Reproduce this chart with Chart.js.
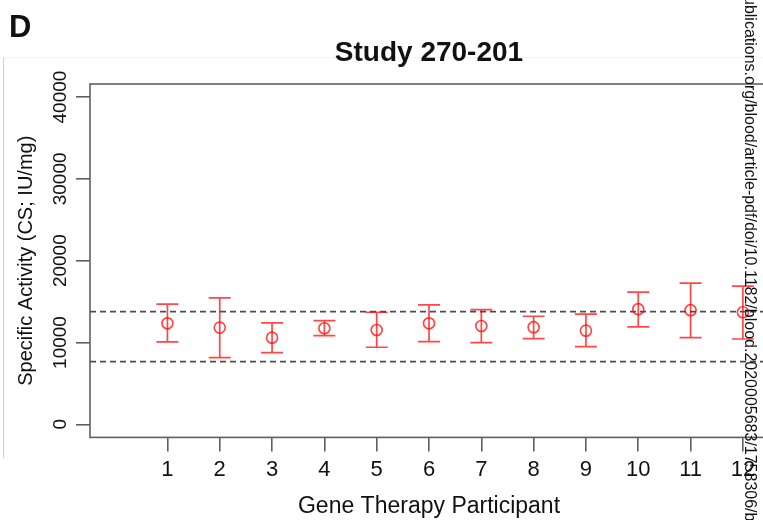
<!DOCTYPE html>
<html>
<head>
<meta charset="utf-8">
<script src="https://cdn.jsdelivr.net/npm/chart.js@4/dist/chart.umd.min.js"></script>
<style>
  html, body { margin: 0; padding: 0; background: #fff; overflow: hidden; }
  #wrap { width: 780px; height: 520px; }
</style>
</head>
<body>
<div id="wrap"><canvas id="c" width="780" height="520"></canvas></div>
<script>
// Specific activity per gene therapy participant (mean with lower/upper bounds)
const participants = [1, 2, 3, 4, 5, 6, 7, 8, 9, 10, 11, 12];
const meanActivity = [12350, 11820, 10590, 11740, 11530, 12350, 12020, 11870, 11450, 14070, 13950, 13700];
const lowerActivity = [10070, 8150, 8760, 10840, 9420, 10100, 9980, 10470, 9490, 11900, 10590, 10430];
const upperActivity = [14680, 15450, 12390, 12670, 13700, 14590, 14020, 13210, 13460, 16150, 17250, 16880];
// Normal reference range (dashed lines)
const referenceRange = [7660, 13770];
// Axis ticks and limits
const xTickValues = [1, 2, 3, 4, 5, 6, 7, 8, 9, 10, 11, 12];
const yTickValues = [0, 10000, 20000, 30000, 40000];
const xLimits = [-0.48, 12.48];
const yLimits = [-1600, 41600];

const FONT = '"Liberation Sans", Arial, Helvetica, sans-serif';
const RED = 'rgba(255, 0, 0, 0.72)';

// Dashed horizontal lines across the whole x range
const refDatasets = referenceRange.map(v => ({
  type: 'line',
  data: [{ x: xLimits[0], y: v }, { x: xLimits[1], y: v }],
  borderColor: '#4d4d4d',
  borderWidth: 1.8,
  borderDash: [6, 4],
  pointRadius: 0,
  showLine: true,
  fill: false
}));

const errorBars = {
  id: 'errorBars',
  afterDatasetsDraw(chart) {
    const { ctx, scales: { x, y } } = chart;
    const cap = 11;
    ctx.save();
    ctx.strokeStyle = RED;
    ctx.lineWidth = 1.7;
    participants.forEach((p, i) => {
      const px = x.getPixelForValue(p);
      const lo = y.getPixelForValue(lowerActivity[i]);
      const hi = y.getPixelForValue(upperActivity[i]);
      ctx.beginPath();
      ctx.moveTo(px, lo); ctx.lineTo(px, hi);
      ctx.moveTo(px - cap, lo); ctx.lineTo(px + cap, lo);
      ctx.moveTo(px - cap, hi); ctx.lineTo(px + cap, hi);
      ctx.stroke();
    });
    ctx.restore();
  }
};

// faint panel frame edges, underneath everything else
const frame = {
  id: 'frame',
  beforeDraw(chart) {
    const { ctx } = chart;
    ctx.save();
    ctx.strokeStyle = '#cfcfcf';
    ctx.lineWidth = 1;
    ctx.beginPath();
    ctx.moveTo(3.5, 57); ctx.lineTo(3.5, 458);
    ctx.stroke();
    ctx.strokeStyle = '#f3f3f3';
    ctx.beginPath();
    ctx.moveTo(3.5, 57.5); ctx.lineTo(780, 57.5);
    ctx.stroke();
    ctx.restore();
  }
};

const decorations = {
  id: 'decorations',
  afterDraw(chart) {
    const { ctx, chartArea: a, scales: { y } } = chart;
    ctx.save();
    // plot box
    ctx.strokeStyle = '#5f5f5f';
    ctx.lineWidth = 1.6;
    ctx.strokeRect(a.left, a.top, a.right - a.left, a.bottom - a.top);

    // y tick labels, written parallel to the axis
    ctx.fillStyle = '#111';
    ctx.font = '19px ' + FONT;
    ctx.textAlign = 'center';
    ctx.textBaseline = 'alphabetic';
    yTickValues.forEach(v => {
      ctx.save();
      ctx.translate(66, y.getPixelForValue(v));
      ctx.rotate(-Math.PI / 2);
      ctx.fillText(String(v), 0, 0);
      ctx.restore();
    });

    // panel letter and title
    ctx.textAlign = 'left';
    ctx.font = 'bold 31px ' + FONT;
    ctx.fillText('D', 9, 37);
    ctx.textAlign = 'center';
    ctx.font = 'bold 28px ' + FONT;
    ctx.fillText('Study 270-201', (a.left + a.right) / 2, 61);

    // download note along the right edge
    ctx.fillStyle = '#111';
    ctx.font = '16px ' + FONT;
    ctx.textAlign = 'left';
    ctx.textBaseline = 'alphabetic';
    ctx.translate(745, -4);
    ctx.rotate(Math.PI / 2);
    ctx.fillText('ublications.org/blood/article-pdf/doi/10.1182/blood.2020005683/1758306/b', 0, 0);
    ctx.restore();
  }
};

new Chart(document.getElementById('c'), {
  type: 'scatter',
  data: {
    datasets: [
      {
        data: participants.map((p, i) => ({ x: p, y: meanActivity[i] })),
        pointStyle: 'circle',
        pointRadius: 5.5,
        pointBorderWidth: 1.7,
        pointBorderColor: RED,
        pointBackgroundColor: 'rgba(0,0,0,0)',
        showLine: false
      },
      ...refDatasets
    ]
  },
  options: {
    responsive: false,
    animation: false,
    devicePixelRatio: 1,
    layout: { padding: { top: 84, right: 12, left: 0, bottom: 0 } },
    plugins: { legend: { display: false }, tooltip: { enabled: false }, title: { display: false } },
    scales: {
      x: {
        type: 'linear',
        min: xLimits[0],
        max: xLimits[1],
        afterBuildTicks: s => { s.ticks = xTickValues.map(v => ({ value: v })); },
        afterFit: s => { s.height = 82.6; },
        border: { display: false },
        grid: { drawOnChartArea: false, drawTicks: true, tickLength: 14, color: '#5f5f5f', lineWidth: 1.6 },
        ticks: { color: '#111', font: { family: FONT, size: 22 }, padding: 5, maxRotation: 0, autoSkip: false },
        title: { display: true, text: 'Gene Therapy Participant', color: '#111', font: { family: FONT, size: 23 }, padding: { top: 0, bottom: 0 } }
      },
      y: {
        type: 'linear',
        min: yLimits[0],
        max: yLimits[1],
        afterBuildTicks: s => { s.ticks = yTickValues.map(v => ({ value: v })); },
        afterFit: s => { s.width = 90; },
        border: { display: false },
        grid: { drawOnChartArea: false, drawTicks: true, tickLength: 14, color: '#5f5f5f', lineWidth: 1.6 },
        ticks: { color: 'rgba(0,0,0,0)', font: { family: FONT, size: 18 } },
        title: { display: true, text: 'Specific Activity (CS; IU/mg)', color: '#111', font: { family: FONT, size: 20 }, padding: { top: 14, bottom: 0 } }
      }
    }
  },
  plugins: [frame, errorBars, decorations]
});
</script>
</body>
</html>
